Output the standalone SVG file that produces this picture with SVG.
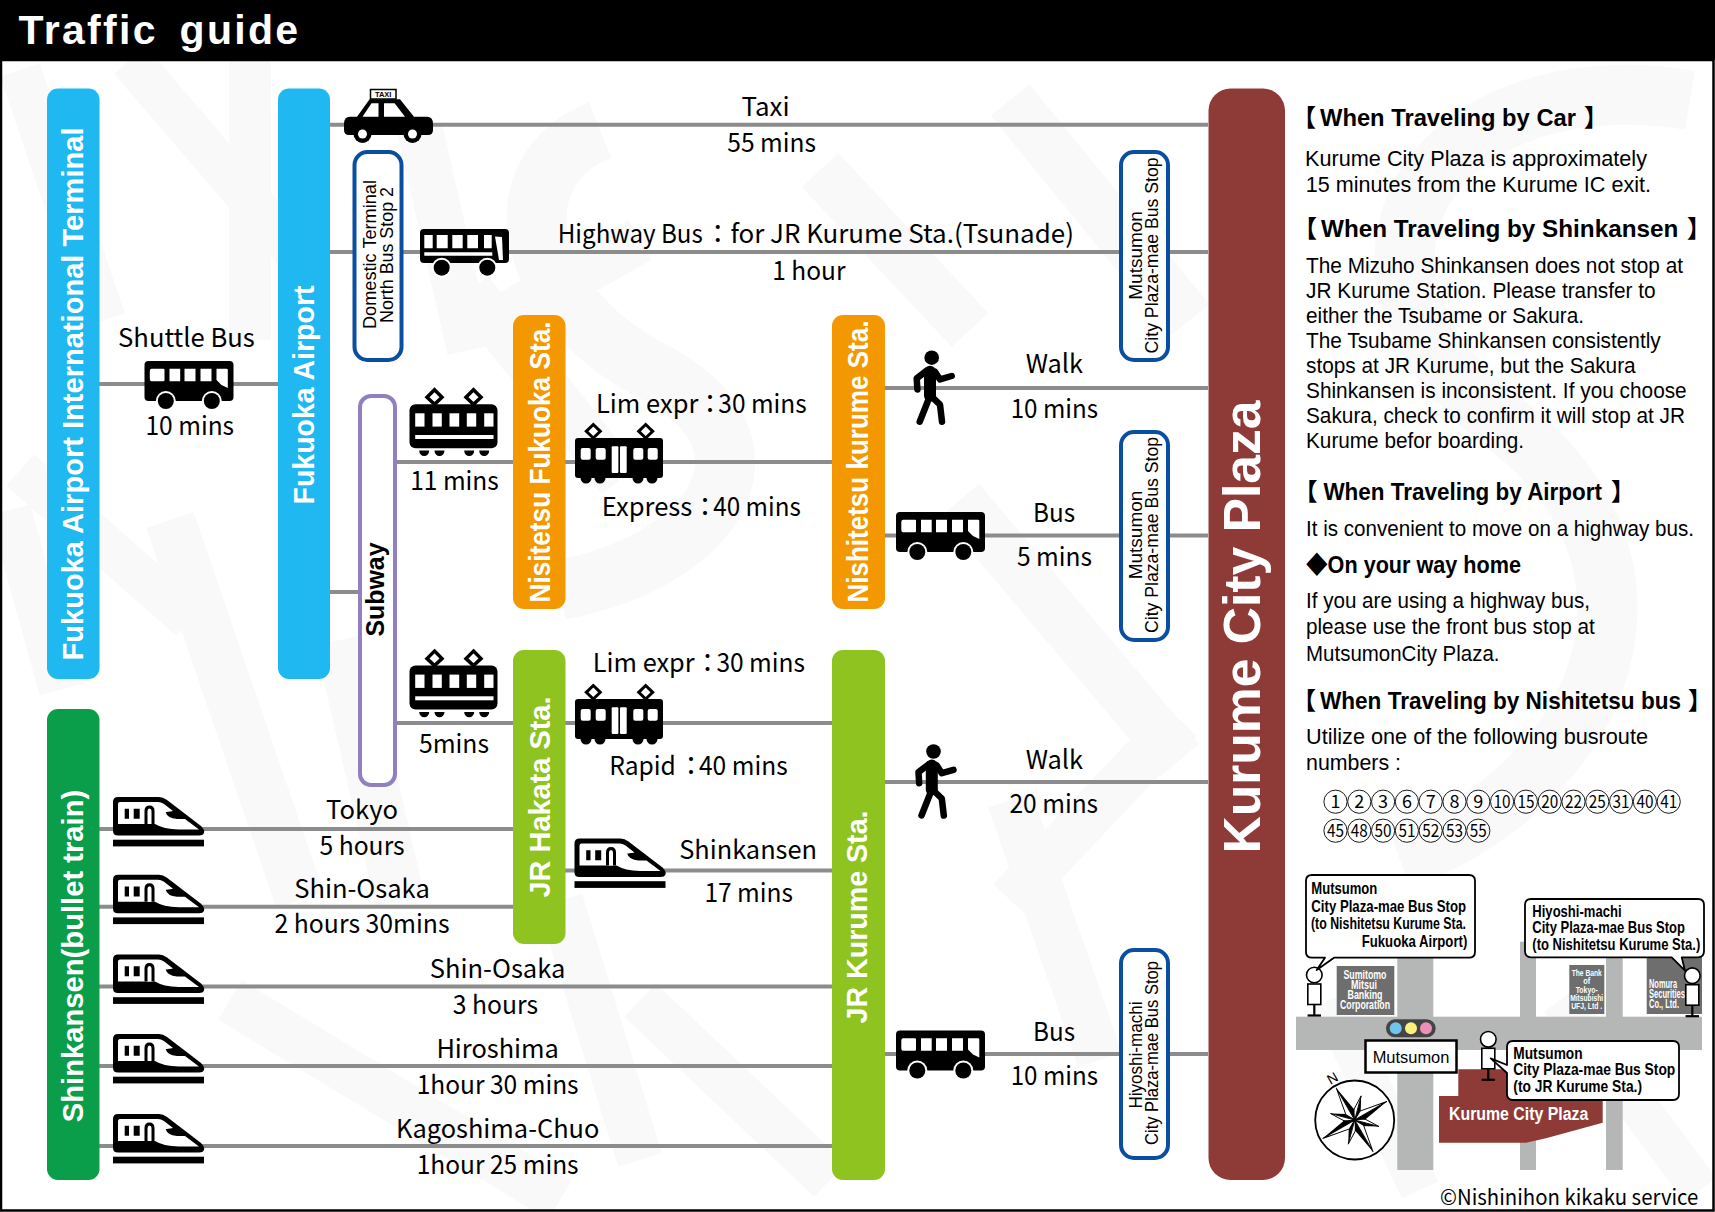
<svg xmlns="http://www.w3.org/2000/svg" xmlns:xlink="http://www.w3.org/1999/xlink" width="1715" height="1212" viewBox="0 0 1715 1212">
<style>
text{font-family:"Liberation Sans",Arial,sans-serif;fill:#000}
.lb{font-family:"Noto Sans CJK JP","Noto Sans",sans-serif;font-size:26px}
.v{font-weight:700;font-size:29px;fill:#fff}
.s{font-size:19px}
.h{font-weight:700;font-size:24px}
.br{font-family:"Noto Sans CJK JP",sans-serif;font-weight:700;font-size:24px}
.p{font-size:21.5px}
.c{font-size:16.5px;font-weight:700}
.bk{font-size:12px;font-weight:700;fill:#fff;text-anchor:middle}
.bs{font-size:9px}
.n{font-family:"Noto Sans CJK JP",sans-serif;font-size:18px;text-anchor:middle}
.ln{stroke:#8c8c8c;stroke-width:4;fill:none}
.wm{stroke:#f9f9f9;fill:none;stroke-linecap:butt}
.rd{fill:#b5b6b6}
.stop{fill:#fff;stroke:#0a4ea2;stroke-width:4}
.cb{fill:#fff;stroke:#000;stroke-width:1.8;stroke-linejoin:round}
.pn{fill:#fff;stroke:#000;stroke-width:1.6}
</style>
<defs>
<g id="bus"><rect width="89" height="40" rx="4"/><path fill="#fff" d="M7 7.7H19q1 0 1 1V19.300q0 1-1 1H7q-1.700 0-1.700-3V11q0-3.300 1.700-3.300zM25 7.700H35.700V20.300H25zM40 7.700H51V20.300H40zM56 7.700H67V20.300H56zM72 7.700H82q1.300 0 1.300 1.300V27L77 24 72 19z"/><circle cx="21.300" cy="40" r="10" fill="#fff"/><circle cx="67.300" cy="40" r="10" fill="#fff"/><circle cx="21.300" cy="40" r="8"/><circle cx="67.300" cy="40" r="8"/></g>
<g id="hbus"><rect width="89" height="34" rx="4"/><path fill="#fff" d="M4.300 6H12.700V19.300H4.300zM16.700 6H27.700V19.300H16.700zM32.300 6H42.700V19.300H32.300zM47.300 6H58V19.300H47.300zM64 6H71.700V19.300H64zM4.300 23.300H72.300V26.700H4.300zM75 7.500L82 8 83 31 79 31z"/><circle cx="21.700" cy="38.700" r="10" fill="#fff"/><circle cx="67.300" cy="38.700" r="10" fill="#fff"/><circle cx="21.700" cy="38.700" r="8"/><circle cx="67.300" cy="38.700" r="8"/></g>
<g id="train"><rect width="88" height="40" rx="3"/><circle cx="11" cy="40" r="5.500"/><circle cx="25" cy="40" r="5.500"/><circle cx="63" cy="40" r="5.500"/><circle cx="77" cy="40" r="5.500"/><g fill="#fff"><rect x="5.700" y="10" width="10" height="11.700" rx="2"/><rect x="20.700" y="10" width="10" height="11.700" rx="2"/><rect x="36.700" y="8.300" width="6.700" height="26.700" rx="1"/><rect x="45" y="8.300" width="6.700" height="26.700" rx="1"/><rect x="58.300" y="10" width="10" height="11.700" rx="2"/><rect x="72.700" y="10" width="10" height="11.700" rx="2"/></g><g fill="#fff" stroke="#000" stroke-width="3"><path d="M18.300-13.500L25.300-6.700 18.300 0 11.300-6.700z"/><path d="M70.700-13.500L77.700-6.700 70.700 0 63.700-6.700z"/></g></g>
<g id="subw"><rect width="88" height="44" rx="6"/><path d="M9.700 46.300h10a5 5.400 0 0 1-10 0zM25 46.300h10a5 5.400 0 0 1-10 0zM54.700 46.300h10a5 5.400 0 0 1-10 0zM69.700 46.300h10a5 5.400 0 0 1-10 0z"/><g fill="#fff"><rect x="5.700" y="9" width="9.300" height="13.300"/><rect x="23" y="9" width="9.300" height="13.300"/><rect x="40" y="9" width="9.700" height="13.300"/><rect x="57.300" y="9" width="9.400" height="13.300"/><rect x="74.700" y="9" width="9.300" height="13.300"/><rect x="5.700" y="30.700" width="78.300" height="4"/></g><g fill="#fff" stroke="#000" stroke-width="3.500"><path d="M25-14.500L32.500-7 25 0 17.500-7z"/><path d="M64-14.500L71.500-7 64 0 56.500-7z"/></g></g>
<g id="shin"><path d="M5 0H46Q50 0 54 3L88 29Q92 33 91 36 90 38.500 86 38.500H5Q0 38.500 0 34V5Q0 0 5 0z"/><path fill="#fff" d="M5 7Q5 5 7 5H45Q48 5 51 7L60 14Q54 15 52.700 15 54 21 64 22L72 22 86 32.500H66Q50 32 42 27H5z"/><path d="M11.700 11.700H16V21.700H11.700zM20.700 11.700H26.700V21.700H20.700z"/><path fill="#fff" stroke="#000" stroke-width="3" d="M33 27V14Q33 10 36.500 10 40 10 40 14V27"/><rect y="42.700" width="91" height="6.700"/></g>
<g id="walk" fill="none" stroke="#000" stroke-linecap="round" stroke-linejoin="round"><circle r="7.300" fill="#000" stroke="none"/><path stroke-width="12" d="M-1.700 14V38"/><path stroke-width="6.500" d="M-2.500 40L-12 64M1 40L8.300 47 10.300 64M3.300 14L8.300 21.700 20 18.300M-5 13L-15 20.700-14.300 31.700"/></g>
<g id="ray"><path d="M0 0L0-37 5-9z"/><path fill="#fff" stroke="#000" stroke-width=".9" d="M0 0L0-37-5-9z"/></g>
<g id="ray2"><path d="M0 0L0-25 4-8z"/><path fill="#fff" stroke="#000" stroke-width=".9" d="M0 0L0-25-4-8z"/></g>
<g id="man"><path d="M0 9V40" stroke="#000" stroke-width="2.200"/><path d="M-6.700 40.500H6.700" stroke="#000" stroke-width="2.200"/><circle class="pn" r="7.800"/><rect class="pn" x="-6.500" y="9" width="13" height="20.500"/></g>
</defs>

<rect width="1715" height="1212" fill="#fff"/>
<g id="watermark" class="wm">
<path stroke-width="42" d="M20 70L105 320M130 60L310 270M250 60L250 340"/>
<path stroke-width="42" d="M10 510L60 690M20 470L190 620"/>
<path stroke-width="46" d="M420 130L470 350M480 330L640 240M470 290L620 480"/>
<path stroke-width="50" d="M170 520L300 900M340 640L400 900"/>
<path stroke-width="60" d="M600 130C500 170 520 300 650 370 790 440 720 560 560 590"/>
<path stroke-width="50" d="M820 170L970 330M1010 100L1190 320M960 500L1180 760"/>
<path stroke-width="46" d="M1010 800L1100 1060M1180 720L1010 900"/>
<path stroke-width="60" d="M1690 100C1440 60 1300 260 1500 420 1690 560 1610 780 1400 860"/>
<path stroke-width="46" d="M560 900L640 1160M640 1000L830 1180M230 1000L560 1200"/>
<path stroke-width="40" d="M1330 1000L1420 1190M1560 1000L1700 1190"/>
</g>

<g id="connectors" class="ln">
<path d="M99 384H278"/><path d="M330 124.700H1208"/><path d="M330 252H1208"/><path d="M330 592H360"/>
<path d="M395 462H513"/><path d="M565 462H832"/><path d="M885 388H1208"/><path d="M885 535.500H1208"/>
<path d="M395 723H513"/><path d="M565 723H832"/><path d="M565 870.600H832"/><path d="M885 782H1208"/><path d="M885 1054H1208"/>
<path d="M99 829H513"/><path d="M99 906.700H513"/><path d="M99 986.600H832"/><path d="M99 1066H832"/><path d="M99 1146H832"/>
</g>

<g id="header"><rect width="1715" height="60"/><text x="18.600" y="43.500" font-size="41" font-weight="700" style="fill:#fff" word-spacing="8" textLength="279.500">Traffic guide</text></g>
<rect id="frame" x="1" y="60" width="1712.500" height="1150.500" fill="none" stroke="#000" stroke-width="2.500"/>

<g id="n-intl"><rect x="47" y="88.600" width="52.500" height="590.400" rx="11" fill="#1fb8f0"/><text class="v" transform="translate(83 394)rotate(-90)" text-anchor="middle" textLength="533" lengthAdjust="spacingAndGlyphs">Fukuoka Airport International Terminal</text></g>
<g id="n-airport"><rect x="278" y="88.600" width="52" height="590.400" rx="11" fill="#1fb8f0"/><text class="v" transform="translate(313.500 395)rotate(-90)" text-anchor="middle" textLength="219" lengthAdjust="spacingAndGlyphs">Fukuoka Airport</text></g>
<g id="n-shink"><rect x="47" y="709" width="52.500" height="471" rx="11" fill="#0a9e4a"/><text class="v" transform="translate(82.500 956)rotate(-90)" text-anchor="middle" textLength="332.500" lengthAdjust="spacingAndGlyphs">Shinkansen(bullet train)</text></g>
<g id="n-nisfuk"><rect x="513" y="315" width="52.500" height="294" rx="11" fill="#f39800"/><text class="v" transform="translate(550 462)rotate(-90)" text-anchor="middle" textLength="281" lengthAdjust="spacingAndGlyphs">Nisitetsu Fukuoka Sta.</text></g>
<g id="n-niskur"><rect x="832" y="315" width="53" height="294" rx="11" fill="#f39800"/><text class="v" transform="translate(868 461.600)rotate(-90)" text-anchor="middle" textLength="282" lengthAdjust="spacingAndGlyphs">Nishitetsu kurume Sta.</text></g>
<g id="n-hakata"><rect x="513" y="650" width="52.500" height="294" rx="11" fill="#8fc31f"/><text class="v" transform="translate(550 797)rotate(-90)" text-anchor="middle" textLength="201" lengthAdjust="spacingAndGlyphs">JR Hakata Sta.</text></g>
<g id="n-jrkur"><rect x="832" y="650" width="53" height="530" rx="11" fill="#8fc31f"/><text class="v" transform="translate(867 917)rotate(-90)" text-anchor="middle" textLength="213" lengthAdjust="spacingAndGlyphs">JR Kurume Sta.</text></g>
<g id="n-plaza"><rect x="1208.500" y="88.600" width="76.500" height="1091.400" rx="22" fill="#8e3b37"/><text class="v" style="font-size:52px" transform="translate(1260 627)rotate(-90)" text-anchor="middle" textLength="453" lengthAdjust="spacingAndGlyphs">Kurume City Plaza</text></g>

<g id="n-domestic"><rect class="stop" x="354.500" y="152" width="47" height="208" rx="13"/><text class="s" transform="translate(375.700 254.500)rotate(-90)" text-anchor="middle" textLength="149" lengthAdjust="spacingAndGlyphs">Domestic Terminal</text><text class="s" transform="translate(393 255)rotate(-90)" text-anchor="middle" textLength="136" lengthAdjust="spacingAndGlyphs">North Bus Stop 2</text></g>
<g id="n-subway"><rect x="360" y="396" width="35" height="389" rx="11" fill="#fff" stroke="#9080c0" stroke-width="4"/><text style="font-size:25px;font-weight:700" transform="translate(384 589.500)rotate(-90)" text-anchor="middle" textLength="94" lengthAdjust="spacingAndGlyphs">Subway</text></g>
<g id="n-mut1"><rect class="stop" x="1121" y="152" width="47" height="208" rx="13"/><text class="s" transform="translate(1142 255.400)rotate(-90)" text-anchor="middle" textLength="88.600" lengthAdjust="spacingAndGlyphs">Mutsumon</text><text class="s" transform="translate(1158 255.400)rotate(-90)" text-anchor="middle" textLength="196" lengthAdjust="spacingAndGlyphs">City Plaza-mae Bus Stop</text></g>
<g id="n-mut2"><rect class="stop" x="1121" y="432" width="47" height="208" rx="13"/><text class="s" transform="translate(1142 535)rotate(-90)" text-anchor="middle" textLength="88.600" lengthAdjust="spacingAndGlyphs">Mutsumon</text><text class="s" transform="translate(1158 535)rotate(-90)" text-anchor="middle" textLength="196" lengthAdjust="spacingAndGlyphs">City Plaza-mae Bus Stop</text></g>
<g id="n-hiyoshi"><rect class="stop" x="1121" y="950" width="47" height="208" rx="13"/><text class="s" transform="translate(1142 1055)rotate(-90)" text-anchor="middle" textLength="107" lengthAdjust="spacingAndGlyphs">Hiyoshi-machi</text><text class="s" transform="translate(1158 1053)rotate(-90)" text-anchor="middle" textLength="184" lengthAdjust="spacingAndGlyphs">City Plaza-mae Bus Stop</text></g>

<g id="icons">
<g id="taxi"><path d="M344 124Q344 116.700 350 116.700H357L369.600 99.300H400L414 116.700H427Q433 116.700 433 124V130Q433 135 428 135H349Q344 135 344 130z"/><path fill="#fff" d="M362.500 116.700L371.500 103.300H378.500V116.700zM384 103.300H394.600L405 116.700H384z"/><rect x="370.500" y="89.500" width="25.500" height="9.500" fill="#fff" stroke="#000" stroke-width="1.500"/><text x="383.200" y="97" font-size="7.500" font-weight="700" text-anchor="middle">TAXI</text><circle cx="362.500" cy="134" r="9"/><circle cx="412.500" cy="134" r="9"/><circle cx="362.500" cy="134" r="4.500" fill="#fff"/><circle cx="412.500" cy="134" r="4.500" fill="#fff"/></g>
<use xlink:href="#bus" href="#bus" x="144.500" y="361"/>
<use xlink:href="#hbus" href="#hbus" x="420" y="229"/>
<use xlink:href="#bus" href="#bus" x="896" y="512"/>
<use xlink:href="#bus" href="#bus" x="896" y="1030.500"/>
<use xlink:href="#subw" href="#subw" x="409.500" y="404.300"/>
<use xlink:href="#subw" href="#subw" x="409.500" y="665.600"/>
<use xlink:href="#train" href="#train" x="575" y="438"/>
<use xlink:href="#train" href="#train" x="575" y="699"/>
<use xlink:href="#shin" href="#shin" x="113" y="797"/>
<use xlink:href="#shin" href="#shin" x="113" y="874.700"/>
<use xlink:href="#shin" href="#shin" x="113" y="954.500"/>
<use xlink:href="#shin" href="#shin" x="113" y="1034"/>
<use xlink:href="#shin" href="#shin" x="113" y="1114"/>
<use xlink:href="#shin" href="#shin" x="574.500" y="838.500"/>
<use xlink:href="#walk" href="#walk" x="931.700" y="357.700"/>
<use xlink:href="#walk" href="#walk" x="933.500" y="751.500"/>
</g>

<g id="labels">
<text class="lb" x="118.100" y="347" textLength="136.700" lengthAdjust="spacingAndGlyphs">Shuttle Bus</text>
<text class="lb" x="145.500" y="435.300" textLength="88.600" lengthAdjust="spacingAndGlyphs">10 mins</text>
<text class="lb" x="741.600" y="116" textLength="48" lengthAdjust="spacingAndGlyphs">Taxi</text>
<text class="lb" x="727.300" y="152" textLength="88.600" lengthAdjust="spacingAndGlyphs">55 mins</text>
<text class="lb" x="557.800" y="242.800"><tspan textLength="145" lengthAdjust="spacingAndGlyphs">Highway Bus</tspan><tspan dx="2">：</tspan><tspan dx="-0.400" textLength="343.500" lengthAdjust="spacingAndGlyphs">for JR Kurume Sta.(Tsunade)</tspan></text>
<text class="lb" x="772.200" y="280" textLength="73.300" lengthAdjust="spacingAndGlyphs">1 hour</text>
<text class="lb" x="410.200" y="490" textLength="88.600" lengthAdjust="spacingAndGlyphs">11 mins</text>
<text class="lb" x="419" y="752.500" textLength="70" lengthAdjust="spacingAndGlyphs">5mins</text>
<text class="lb" x="596" y="413"><tspan textLength="102.300" lengthAdjust="spacingAndGlyphs">Lim expr</tspan><tspan dx="-1.300">：</tspan><tspan dx="-4.700" textLength="88.400" lengthAdjust="spacingAndGlyphs">30 mins</tspan></text>
<text class="lb" x="601.700" y="515.700"><tspan textLength="90.600" lengthAdjust="spacingAndGlyphs">Express</tspan><tspan dx="-0.300">：</tspan><tspan dx="-4.700" textLength="87.400" lengthAdjust="spacingAndGlyphs">40 mins</tspan></text>
<text class="lb" x="1025.700" y="373.200" textLength="57.300" lengthAdjust="spacingAndGlyphs">Walk</text>
<text class="lb" x="1010.700" y="418" textLength="87.300" lengthAdjust="spacingAndGlyphs">10 mins</text>
<text class="lb" x="1033" y="521.700" textLength="42" lengthAdjust="spacingAndGlyphs">Bus</text>
<text class="lb" x="1017" y="566" textLength="75" lengthAdjust="spacingAndGlyphs">5 mins</text>
<text class="lb" x="592.800" y="671.600"><tspan textLength="101.800" lengthAdjust="spacingAndGlyphs">Lim expr</tspan>：<tspan dx="-4.200" textLength="88.600" lengthAdjust="spacingAndGlyphs">30 mins</tspan></text>
<text class="lb" x="609.200" y="775"><tspan textLength="66.700" lengthAdjust="spacingAndGlyphs">Rapid</tspan><tspan dx="2.100">：</tspan><tspan dx="-5" textLength="88.600" lengthAdjust="spacingAndGlyphs">40 mins</tspan></text>
<text class="lb" x="679.200" y="858.600" textLength="137.800" lengthAdjust="spacingAndGlyphs">Shinkansen</text>
<text class="lb" x="704.400" y="902" textLength="88.600" lengthAdjust="spacingAndGlyphs">17 mins</text>
<text class="lb" x="1025.700" y="769" textLength="57.300" lengthAdjust="spacingAndGlyphs">Walk</text>
<text class="lb" x="1009.500" y="812.700" textLength="88.600" lengthAdjust="spacingAndGlyphs">20 mins</text>
<text class="lb" x="1033" y="1041" textLength="42" lengthAdjust="spacingAndGlyphs">Bus</text>
<text class="lb" x="1010.700" y="1085" textLength="87.300" lengthAdjust="spacingAndGlyphs">10 mins</text>
<text class="lb" x="326" y="819" textLength="72" lengthAdjust="spacingAndGlyphs">Tokyo</text>
<text class="lb" x="319.400" y="855" textLength="85.300" lengthAdjust="spacingAndGlyphs">5 hours</text>
<text class="lb" x="294.200" y="898" textLength="135.600" lengthAdjust="spacingAndGlyphs">Shin-Osaka</text>
<text class="lb" x="274.500" y="933" textLength="175" lengthAdjust="spacingAndGlyphs">2 hours 30mins</text>
<text class="lb" x="429.800" y="978" textLength="135.600" lengthAdjust="spacingAndGlyphs">Shin-Osaka</text>
<text class="lb" x="452.800" y="1014" textLength="85.300" lengthAdjust="spacingAndGlyphs">3 hours</text>
<text class="lb" x="436.400" y="1058" textLength="122.500" lengthAdjust="spacingAndGlyphs">Hiroshima</text>
<text class="lb" x="416.700" y="1094" textLength="161.900" lengthAdjust="spacingAndGlyphs">1hour 30 mins</text>
<text class="lb" x="396" y="1137.500" textLength="203.400" lengthAdjust="spacingAndGlyphs">Kagoshima-Chuo</text>
<text class="lb" x="416.700" y="1173.600" textLength="161.900" lengthAdjust="spacingAndGlyphs">1hour 25 mins</text>
</g>

<g id="guide">
<text class="h" x="1292" y="125.500"><tspan class="br">【</tspan><tspan dx="4" textLength="256" lengthAdjust="spacingAndGlyphs">When Traveling by Car</tspan><tspan class="br" dx="8">】</tspan></text>
<text class="p" x="1305" y="166" textLength="342" lengthAdjust="spacingAndGlyphs">Kurume City Plaza is approximately</text>
<text class="p" x="1305.700" y="191.700" textLength="345.300" lengthAdjust="spacingAndGlyphs">15 minutes from the Kurume IC exit.</text>
<text class="h" x="1293" y="236.700"><tspan class="br">【</tspan><tspan dx="4" textLength="357.300" lengthAdjust="spacingAndGlyphs">When Traveling by Shinkansen</tspan><tspan class="br" dx="8.700">】</tspan></text>
<text class="p" x="1306" y="272.700" textLength="377" lengthAdjust="spacingAndGlyphs">The Mizuho Shinkansen does not stop at</text>
<text class="p" x="1306" y="297.700" textLength="349.700" lengthAdjust="spacingAndGlyphs">JR Kurume Station. Please transfer to</text>
<text class="p" x="1306" y="322.700" textLength="278" lengthAdjust="spacingAndGlyphs">either the Tsubame or Sakura.</text>
<text class="p" x="1306" y="347.700" textLength="354.700" lengthAdjust="spacingAndGlyphs">The Tsubame Shinkansen consistently</text>
<text class="p" x="1306" y="372.700" textLength="329.700" lengthAdjust="spacingAndGlyphs">stops at JR Kurume, but the Sakura</text>
<text class="p" x="1306" y="397.700" textLength="380.700" lengthAdjust="spacingAndGlyphs">Shinkansen is inconsistent. If you choose</text>
<text class="p" x="1306" y="422.700" textLength="379" lengthAdjust="spacingAndGlyphs">Sakura, check to confirm it will stop at JR</text>
<text class="p" x="1306" y="447.700" textLength="218" lengthAdjust="spacingAndGlyphs">Kurume befor boarding.</text>
<text class="h" x="1293.500" y="499.500"><tspan class="br">【</tspan><tspan dx="5.900" textLength="278.600" lengthAdjust="spacingAndGlyphs">When Traveling by Airport</tspan><tspan class="br" dx="9">】</tspan></text>
<text class="p" x="1306" y="536" textLength="388" lengthAdjust="spacingAndGlyphs">It is convenient to move on a highway bus.</text>
<text class="h" x="1306" y="573" textLength="215" lengthAdjust="spacingAndGlyphs" style="font-family:'Liberation Sans','Noto Sans CJK JP',sans-serif">◆On your way home</text>
<text class="p" x="1306" y="608" textLength="284" lengthAdjust="spacingAndGlyphs">If you are using a highway bus,</text>
<text class="p" x="1306" y="634.400" textLength="288.700" lengthAdjust="spacingAndGlyphs">please use the front bus stop at</text>
<text class="p" x="1306" y="660.600" textLength="193.500" lengthAdjust="spacingAndGlyphs">MutsumonCity Plaza.</text>
<text class="h" x="1292" y="708.700"><tspan class="br">【</tspan><tspan dx="4" textLength="361" lengthAdjust="spacingAndGlyphs">When Traveling by Nishitetsu bus</tspan><tspan class="br" dx="7">】</tspan></text>
<text class="p" x="1306" y="743.700" textLength="342" lengthAdjust="spacingAndGlyphs">Utilize one of the following busroute</text>
<text class="p" x="1306" y="770" textLength="95" lengthAdjust="spacingAndGlyphs">numbers :</text>
</g>

<g id="routes">
<g transform="translate(2.200 0)">
<g fill="#fff" stroke="#000" stroke-width=".9">
<circle cx="1333.300" cy="801.700" r="11.600"/><circle cx="1357.100" cy="801.700" r="11.600"/><circle cx="1380.900" cy="801.700" r="11.600"/><circle cx="1404.700" cy="801.700" r="11.600"/><circle cx="1428.500" cy="801.700" r="11.600"/><circle cx="1452.300" cy="801.700" r="11.600"/><circle cx="1476.100" cy="801.700" r="11.600"/><circle cx="1499.900" cy="801.700" r="11.600"/><circle cx="1523.700" cy="801.700" r="11.600"/><circle cx="1547.500" cy="801.700" r="11.600"/><circle cx="1571.300" cy="801.700" r="11.600"/><circle cx="1595.100" cy="801.700" r="11.600"/><circle cx="1618.900" cy="801.700" r="11.600"/><circle cx="1642.700" cy="801.700" r="11.600"/><circle cx="1666.500" cy="801.700" r="11.600"/>
<circle cx="1333.300" cy="830.700" r="11.600"/><circle cx="1357.100" cy="830.700" r="11.600"/><circle cx="1380.900" cy="830.700" r="11.600"/><circle cx="1404.700" cy="830.700" r="11.600"/><circle cx="1428.500" cy="830.700" r="11.600"/><circle cx="1452.300" cy="830.700" r="11.600"/><circle cx="1476.100" cy="830.700" r="11.600"/>
</g>
<text class="n" x="1333.300" y="808">1</text><text class="n" x="1357.100" y="808">2</text><text class="n" x="1380.900" y="808">3</text><text class="n" x="1404.700" y="808">6</text><text class="n" x="1428.500" y="808">7</text><text class="n" x="1452.300" y="808">8</text><text class="n" x="1476.100" y="808">9</text>
<text class="n" x="1499.900" y="808" textLength="17" lengthAdjust="spacingAndGlyphs">10</text><text class="n" x="1523.700" y="808" textLength="17" lengthAdjust="spacingAndGlyphs">15</text><text class="n" x="1547.500" y="808" textLength="17" lengthAdjust="spacingAndGlyphs">20</text><text class="n" x="1571.300" y="808" textLength="17" lengthAdjust="spacingAndGlyphs">22</text><text class="n" x="1595.100" y="808" textLength="17" lengthAdjust="spacingAndGlyphs">25</text><text class="n" x="1618.900" y="808" textLength="17" lengthAdjust="spacingAndGlyphs">31</text><text class="n" x="1642.700" y="808" textLength="17" lengthAdjust="spacingAndGlyphs">40</text><text class="n" x="1666.500" y="808" textLength="17" lengthAdjust="spacingAndGlyphs">41</text>
<text class="n" x="1333.300" y="837" textLength="17" lengthAdjust="spacingAndGlyphs">45</text><text class="n" x="1357.100" y="837" textLength="17" lengthAdjust="spacingAndGlyphs">48</text><text class="n" x="1380.900" y="837" textLength="17" lengthAdjust="spacingAndGlyphs">50</text><text class="n" x="1404.700" y="837" textLength="17" lengthAdjust="spacingAndGlyphs">51</text><text class="n" x="1428.500" y="837" textLength="17" lengthAdjust="spacingAndGlyphs">52</text><text class="n" x="1452.300" y="837" textLength="17" lengthAdjust="spacingAndGlyphs">53</text><text class="n" x="1476.100" y="837" textLength="17" lengthAdjust="spacingAndGlyphs">55</text>
</g>
</g>

<g id="map">
<rect class="rd" x="1397.300" y="950" width="36" height="220"/><rect class="rd" x="1520" y="941.700" width="16" height="228.300"/><rect class="rd" x="1606" y="950" width="16.700" height="220"/><rect class="rd" x="1296" y="1016.700" width="406" height="33.300"/>
<path fill="#8e3b37" d="M1458.300 1069.300H1507L1602.700 1098V1122.700L1546 1138.300 1526 1142.700H1439V1096H1458.300z"/>
<text x="1449" y="1120" font-size="18" font-weight="700" style="fill:#fff" textLength="139.300" lengthAdjust="spacingAndGlyphs">Kurume City Plaza</text>
<rect x="1336.700" y="966" width="57.600" height="49" fill="#6e6e6e"/>
<text class="bk" x="1365" y="979" textLength="43" lengthAdjust="spacingAndGlyphs">Sumitomo</text><text class="bk" x="1364" y="989" textLength="26" lengthAdjust="spacingAndGlyphs">Mitsui</text><text class="bk" x="1365" y="999" textLength="35" lengthAdjust="spacingAndGlyphs">Banking</text><text class="bk" x="1365" y="1009" textLength="50" lengthAdjust="spacingAndGlyphs">Corporation</text>
<rect x="1569.300" y="965" width="35" height="49" fill="#6e6e6e"/>
<text class="bk bs" x="1586.700" y="976" textLength="30" lengthAdjust="spacingAndGlyphs">The Bank</text><text class="bk bs" x="1586.700" y="984" textLength="7" lengthAdjust="spacingAndGlyphs">of</text><text class="bk bs" x="1586.700" y="992.700" textLength="22" lengthAdjust="spacingAndGlyphs">Tokyo-</text><text class="bk bs" x="1586.700" y="1001" textLength="33" lengthAdjust="spacingAndGlyphs">Mitsubishi</text><text class="bk bs" x="1586.700" y="1008.700" textLength="31" lengthAdjust="spacingAndGlyphs">UFJ, Ltd .</text>
<rect x="1646.700" y="950" width="55.300" height="64" fill="#6e6e6e"/>
<text class="bk" x="1663" y="988.300" textLength="28" lengthAdjust="spacingAndGlyphs">Nomura</text><text class="bk" x="1667" y="998.300" textLength="36" lengthAdjust="spacingAndGlyphs">Securities</text><text class="bk" x="1664" y="1008.300" textLength="30" lengthAdjust="spacingAndGlyphs">Co., Ltd.</text>
<g id="signal"><rect x="1386" y="1019.300" width="49.700" height="18" rx="9" fill="#444"/><circle cx="1395.700" cy="1028.300" r="6" fill="#6ec6f0"/><circle cx="1411" cy="1028.300" r="6" fill="#fdf07c"/><circle cx="1426" cy="1028.300" r="6" fill="#ee8fba"/></g>
<g id="mutsumon-sign"><rect x="1365.500" y="1040.500" width="91" height="32" fill="#fff" stroke="#000" stroke-width="2.500"/><text x="1372.700" y="1062.700" font-size="16.500" textLength="76.700" lengthAdjust="spacingAndGlyphs">Mutsumon</text></g>
<use xlink:href="#man" href="#man" x="1314.300" y="975"/>
<use xlink:href="#man" href="#man" x="1692.300" y="975.700"/>
<use xlink:href="#man" href="#man" x="1488.300" y="1039.300"/>
<g id="callout1"><path class="cb" d="M1312 875H1469Q1475 875 1475 881V952Q1475 957.700 1469 957.700H1334L1316.700 970 1325 957.700H1312Q1306 957.700 1306 952V881Q1306 875 1312 875z"/>
<text class="c" x="1311.300" y="894.300" textLength="66" lengthAdjust="spacingAndGlyphs">Mutsumon</text><text class="c" x="1311.300" y="912.300" textLength="154.700" lengthAdjust="spacingAndGlyphs">City Plaza-mae Bus Stop</text><text class="c" x="1311" y="929.300" textLength="155" lengthAdjust="spacingAndGlyphs">(to Nishitetsu Kurume Sta.</text><text class="c" x="1361.700" y="947.300" textLength="105.600" lengthAdjust="spacingAndGlyphs">Fukuoka Airport)</text></g>
<g id="callout2"><path class="cb" d="M1531 899H1698Q1704 899 1704 905V951.300Q1704 957.300 1698 957.300H1681.700L1685 970.700 1671.700 957.300H1531Q1525 957.300 1525 951.300V905Q1525 899 1531 899z"/>
<text class="c" x="1532.300" y="916.700" textLength="89.300" lengthAdjust="spacingAndGlyphs">Hiyoshi-machi</text><text class="c" x="1532.300" y="932.700" textLength="152.700" lengthAdjust="spacingAndGlyphs">City Plaza-mae Bus Stop</text><text class="c" x="1532.300" y="950" textLength="168" lengthAdjust="spacingAndGlyphs">(to Nishitetsu Kurume Sta.)</text></g>
<g id="callout3"><path class="cb" d="M1513 1041H1673Q1679 1041 1679 1047V1094Q1679 1100 1673 1100H1513Q1507 1100 1507 1094V1073L1490.700 1058.300 1507 1065V1047Q1507 1041 1513 1041z"/>
<text class="c" x="1513.300" y="1058.700" textLength="69.300" lengthAdjust="spacingAndGlyphs">Mutsumon</text><text class="c" x="1513.300" y="1074.700" textLength="162" lengthAdjust="spacingAndGlyphs">City Plaza-mae Bus Stop</text><text class="c" x="1513.300" y="1091.700" textLength="128.700" lengthAdjust="spacingAndGlyphs">(to JR Kurume Sta.)</text></g>
<g id="compass"><circle cx="1354.700" cy="1120" r="39.500" fill="#fff" stroke="#000" stroke-width="1.800"/>
<g transform="translate(1354.700 1120)">
<use xlink:href="#ray2" href="#ray2" transform="rotate(15)"/><use xlink:href="#ray2" href="#ray2" transform="rotate(105)"/><use xlink:href="#ray2" href="#ray2" transform="rotate(195)"/><use xlink:href="#ray2" href="#ray2" transform="rotate(285)"/>
<use xlink:href="#ray" href="#ray" transform="rotate(-30)"/><use xlink:href="#ray" href="#ray" transform="rotate(60)"/><use xlink:href="#ray" href="#ray" transform="rotate(150)"/><use xlink:href="#ray" href="#ray" transform="rotate(240)"/>
</g>
<text transform="translate(1330.500 1085)rotate(-30)" font-size="14">N</text></g>
</g>
<text id="copyright" x="1440" y="1205" class="lb" style="font-size:21px" textLength="258.300" lengthAdjust="spacingAndGlyphs">©Nishinihon kikaku service</text>
</svg>
